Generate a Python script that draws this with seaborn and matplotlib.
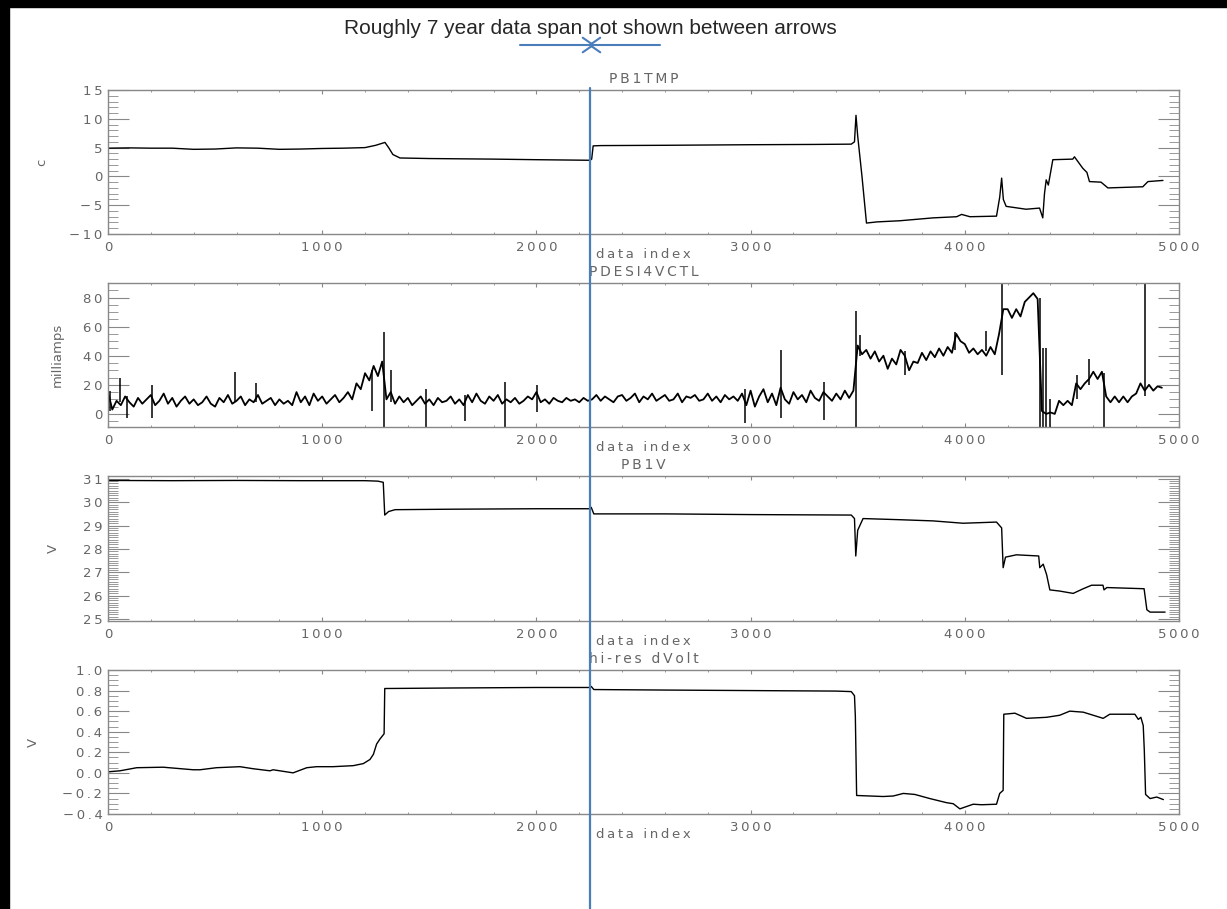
import numpy as np
import seaborn as sns
import matplotlib.pyplot as plt
from matplotlib.ticker import MultipleLocator, FuncFormatter
from matplotlib.patches import Rectangle, FancyArrowPatch
from matplotlib.lines import Line2D

# PB1TMP (c)
tmp_x = [0, 100, 200, 300, 400, 500, 600, 700, 800, 900,
         1000, 1100, 1200, 1250, 1293, 1310, 1330, 1363,
         1500, 1800, 2000, 2250, 2258, 2265, 2300, 2600, 3000, 3300,
         3470, 3485, 3492, 3500, 3520, 3541, 3590, 3697, 3852, 3962,
         3985, 4024, 4148, 4163, 4172, 4180, 4193, 4286, 4349, 4364,
         4372, 4380, 4390, 4411, 4504, 4512, 4551, 4570, 4582, 4636,
         4668, 4831, 4855, 4925]
tmp_y = [4.9, 4.95, 4.9, 4.9, 4.7, 4.75, 4.95, 4.9, 4.7, 4.75,
         4.85, 4.9, 5.0, 5.4, 5.9, 5.0, 3.8, 3.2,
         3.1, 3.0, 2.9, 2.8, 3.0, 5.3, 5.35, 5.4, 5.5, 5.55,
         5.6, 6.0, 10.6, 7.0, 0, -8.1, -7.9, -7.7, -7.2, -7.0,
         -6.6, -7.0, -6.9, -3.6, -0.3, -4.0, -5.2, -5.7, -5.5, -7.2,
         -3.0, -0.6, -1.5, 2.9, 3.0, 3.4, 1.4, 0.7, -0.9, -1.0,
         -2.0, -1.8, -0.9, -0.7]

# PDESI4VCTL (milliamps), one value every 20 samples
ctl_x = np.arange(0, 4921, 20)
ctl_y = [15, 3, 9, 6, 12, 8, 5, 11, 7, 10,
         13, 6, 9, 14, 7, 11, 5, 9, 12, 7,
         10, 6, 8, 12, 7, 5, 11, 8, 13, 7,
         9, 12, 6, 10, 8, 13, 7, 9, 11, 6,
         10, 7, 9, 6, 15, 8, 12, 6, 14, 9,
         12, 7, 10, 13, 8, 11, 15, 10, 21, 17,
         28, 23, 33, 26, 36, 10, 15, 7, 12, 8,
         11, 6, 9, 12, 7, 10, 6, 11, 8, 9,
         12, 7, 10, 6, 13, 8, 14, 9, 7, 12,
         9, 13, 7, 10, 8, 11, 7, 9, 12, 10,
         15, 8, 10, 7, 11, 9, 8, 11, 9, 10,
         8, 11, 9, 10, 13, 9, 12, 10, 8, 12,
         13, 9, 11, 14, 8, 12, 10, 14, 9, 11,
         13, 9, 10, 14, 8, 12, 11, 13, 9, 10,
         14, 9, 12, 8, 13, 10, 12, 9, 14, 6,
         16, 5, 12, 17, 8, 14, 6, 18, 10, 7,
         15, 10, 13, 8, 16, 11, 9, 15, 12, 9,
         14, 10, 16, 11, 16, 47, 41, 44, 38, 43,
         36, 40, 31, 38, 34, 44, 40, 30, 36, 35,
         42, 37, 43, 39, 45, 40, 46, 42, 55, 50,
         48, 42, 45, 41, 44, 40, 46, 41, 55, 72,
         72, 66, 72, 67, 77, 80, 83, 79, 2, 0,
         1, 0, 9, 6, 9, 6, 21, 17, 21, 24,
         29, 24, 29, 12, 8, 12, 8, 12, 8, 12,
         14, 21, 16, 20, 16, 19, 18]
# single-sample spikes
spike_x = [10, 56, 90, 204, 593, 691, 1231, 1290, 1321, 1485, 1667, 1853,
           2001, 2974, 3142, 3341, 3491, 3510, 3720, 3953, 4098, 4175,
           4350, 4363, 4378, 4400, 4525, 4580, 4648, 4842]
spike_lo = [2, 8, -3, -3, 8, 8, 2, -9, 8, -9, -5, -9,
            1.6, -6, -3, -4, -9, 40, 27, 44, 43, 27,
            -9, -9, -9, -9, 10, 20, -9, 12]
spike_hi = [16, 25, 12, 20, 29, 21, 30, 56, 30, 17, 13, 22,
            20, 17, 44, 22, 71, 54, 43, 56, 57, 90,
            80, 45, 45, 10, 27, 38, 28, 90]

# PB1V (V)
v_x = [0, 300, 600, 900, 1200, 1260, 1285, 1292, 1310, 1340,
       1600, 2000, 2250, 2256, 2268, 2600, 3000, 3470, 3485, 3491,
       3500, 3525, 3700, 3852, 3992, 4148, 4172, 4179, 4190, 4241,
       4345, 4350, 4366, 4382, 4397, 4443, 4506, 4553, 4592, 4645,
       4650, 4663, 4837, 4850, 4865, 4935]
v_y = [30.93, 30.92, 30.93, 30.92, 30.92, 30.9, 30.85, 29.45, 29.6, 29.68,
       29.7, 29.72, 29.72, 29.78, 29.5, 29.5, 29.47, 29.45, 29.3, 27.7,
       28.8, 29.3, 29.25, 29.2, 29.1, 29.15, 28.9, 27.2, 27.65, 27.75,
       27.7, 27.2, 27.35, 26.9, 26.25, 26.2, 26.1, 26.3, 26.45, 26.45,
       26.25, 26.35, 26.3, 25.4, 25.3, 25.3]

# hi-res dVolt (V)
d_x = [0, 56, 134, 257, 398, 429, 506, 616, 678, 756,
       771, 864, 928, 974, 1050, 1145, 1192, 1223, 1239, 1254,
       1270, 1289, 1292, 1600, 2000, 2250, 2256, 2268, 2600, 3000,
       3400, 3470, 3485, 3489, 3495, 3619, 3666, 3713, 3767, 3837,
       3915, 3946, 3977, 4039, 4078, 4148, 4163, 4179, 4182, 4234,
       4288, 4381, 4443, 4490, 4553, 4646, 4677, 4794, 4810, 4822,
       4833, 4838, 4844, 4865, 4896, 4927]
d_y = [0.01, 0.02, 0.05, 0.055, 0.03, 0.03, 0.05, 0.06, 0.04, 0.02,
       0.03, 0.0, 0.05, 0.06, 0.06, 0.07, 0.09, 0.13, 0.18, 0.28,
       0.33, 0.38, 0.82, 0.825, 0.83, 0.83, 0.84, 0.81, 0.805, 0.80,
       0.795, 0.79, 0.75, 0.55, -0.22, -0.23, -0.225, -0.20, -0.21, -0.25,
       -0.29, -0.30, -0.35, -0.305, -0.31, -0.305, -0.20, -0.17, 0.57, 0.58,
       0.53, 0.54, 0.56, 0.60, 0.59, 0.53, 0.57, 0.57, 0.52, 0.54,
       0.46, 0.22, -0.21, -0.25, -0.235, -0.26]

gap_index = 2250
grey = '#666666'
blue = '#4A7EBB'

sns.set_style('ticks')
plt.rcParams['font.family'] = ['DejaVu Sans']

W, H = 1227, 909
fig = plt.figure(figsize=(W / 100, H / 100), dpi=100)


def spaced(s):
    # widen the text a little, like the old IDL vector font
    return '\u2009'.join(s)


def px_axes(top, bottom):
    return fig.add_axes([108 / W, 1 - bottom / H, (1179 - 108) / W, (bottom - top) / H])


def style(ax, title, ylabel, ylim, ymaj, ymin, ylab_x, fmt='{:g}'):
    ax.set_xlim(0, 5000)
    ax.set_ylim(*ylim)
    ax.xaxis.set_major_locator(MultipleLocator(1000))
    ax.xaxis.set_minor_locator(MultipleLocator(200))
    ax.yaxis.set_major_locator(MultipleLocator(ymaj))
    ax.yaxis.set_minor_locator(MultipleLocator(ymin))
    ax.xaxis.set_major_formatter(FuncFormatter(lambda v, p: spaced('{:g}'.format(v))))
    ax.yaxis.set_major_formatter(
        FuncFormatter(lambda v, p: spaced(fmt.format(v).replace('-', '\u2212'))))
    ax.tick_params(which='both', direction='in', top=True, right=True,
                   color='#888888', labelcolor=grey, labelsize=9.5)
    ax.tick_params(axis='x', which='major', length=3, pad=5)
    ax.tick_params(axis='x', which='minor', length=1.5)
    ax.tick_params(axis='y', which='major', length=15, pad=4)
    ax.tick_params(axis='y', which='minor', length=7)
    for sp in ax.spines.values():
        sp.set_color('#888888')
        sp.set_linewidth(1)
    ax.set_title(spaced(title), color=grey, fontsize=10, pad=5)
    ax.set_xlabel(spaced('data index'), color=grey, fontsize=9.5, labelpad=-4)
    ax.set_ylabel(ylabel, color=grey, fontsize=9.5)
    ax.yaxis.set_label_coords(ylab_x, 0.5)


ax1 = px_axes(90, 234)
ax2 = px_axes(283, 427)
ax3 = px_axes(476, 621)
ax4 = px_axes(670, 814)

sns.lineplot(x=tmp_x, y=tmp_y, ax=ax1, color='black', lw=1, estimator=None, sort=False)
style(ax1, 'PB1TMP', 'c', (-10, 15), 5, 1, -0.056)

sns.lineplot(x=ctl_x, y=ctl_y, ax=ax2, color='black', lw=1.3, estimator=None, sort=False)
ax2.vlines(spike_x, spike_lo, spike_hi, color='black', lw=1.1)
style(ax2, 'PDESI4VCTL', 'milliamps', (-9, 90), 20, 5, -0.041)

sns.lineplot(x=v_x, y=v_y, ax=ax3, color='black', lw=1, estimator=None, sort=False)
style(ax3, 'PB1V', 'V', (24.92, 31.12), 1, 0.1, -0.045)

sns.lineplot(x=d_x, y=d_y, ax=ax4, color='black', lw=1, estimator=None, sort=False)
style(ax4, 'hi-res dVolt', 'V', (-0.4, 1.0), 0.2, 0.05, -0.064, fmt='{:.1f}')

# blue marker line where the data gap sits
gx = fig.transFigure.inverted().transform(ax1.transData.transform((gap_index, 0)))[0]
fig.add_artist(Line2D([gx, gx], [0, 1 - 88 / H], transform=fig.transFigure,
                      color=blue, lw=1.6))

# note and arrows at the top
fig.text(gx, 1 - 28 / H, 'Roughly 7 year data span not shown between arrows',
         ha='center', va='center', fontsize=15,
         family=['Liberation Sans Narrow', 'Liberation Sans', 'DejaVu Sans'])
arrow_style = '->,head_length=0.5,head_width=0.35'
fig.add_artist(FancyArrowPatch((520 / W, 1 - 45 / H), (595 / W, 1 - 45 / H),
                               transform=fig.transFigure, arrowstyle=arrow_style,
                               mutation_scale=15, color=blue, lw=1.5,
                               shrinkA=0, shrinkB=0))
fig.add_artist(FancyArrowPatch((660 / W, 1 - 45 / H), (588 / W, 1 - 45 / H),
                               transform=fig.transFigure, arrowstyle=arrow_style,
                               mutation_scale=15, color=blue, lw=1.5,
                               shrinkA=0, shrinkB=0))

# black frame bars (left and top)
fig.add_artist(Rectangle((0, 0), 9 / W, 1, transform=fig.transFigure, color='black'))
fig.add_artist(Rectangle((0, 1 - 7 / H), 1, 7 / H, transform=fig.transFigure, color='black'))

fig.savefig('out.png', dpi=100)
